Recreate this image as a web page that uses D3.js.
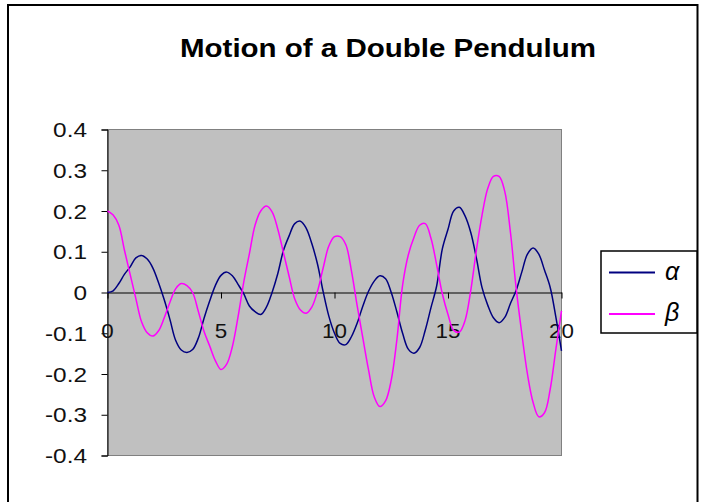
<!DOCTYPE html>
<html>
<head>
<meta charset="utf-8">
<script src="https://cdn.jsdelivr.net/npm/d3@7"></script>
<style>
  html, body { margin: 0; padding: 0; background: #fff; }
  svg { display: block; }
  text { font-family: Arial, "Liberation Sans", sans-serif; }
</style>
</head>
<body>
<svg id="chart" width="706" height="502"></svg>
<script>
// Time samples (s) and pendulum angles (rad)
const time = d3.range(0, 20.001, 0.25).map(t => +t.toFixed(2));

const alpha = [
  0, 0.004, 0.022, 0.045, 0.063, 0.085, 0.091, 0.082, 0.06, 0.024,
  -0.018, -0.066, -0.117, -0.141, -0.147, -0.14, -0.112, -0.064, -0.021, 0.017,
  0.042, 0.05, 0.041, 0.02, -0.003, -0.033, -0.047, -0.054, -0.036, 0.0,
  0.046, 0.103, 0.139, 0.169, 0.175, 0.158, 0.12, 0.07, 0.002, -0.058,
  -0.1, -0.125, -0.128, -0.108, -0.075, -0.033, 0.003, 0.028, 0.041, 0.034,
  0.0, -0.048, -0.1, -0.139, -0.149, -0.135, -0.092, -0.037, 0.016, 0.107,
  0.155, 0.2, 0.209, 0.188, 0.148, 0.085, 0.012, -0.031, -0.062, -0.074,
  -0.061, -0.027, 0.005, 0.05, 0.094, 0.109, 0.094, 0.055, 0.013, -0.06,
  -0.143
];

const beta = [
  0.2, 0.19, 0.165, 0.103, 0.044, -0.015, -0.072, -0.099, -0.107, -0.094,
  -0.062, -0.024, 0.009, 0.022, 0.017, 0.0, -0.046, -0.095, -0.131, -0.167,
  -0.189, -0.176, -0.133, -0.06, 0.025, 0.095, 0.165, 0.2, 0.212, 0.198,
  0.156, 0.098, 0.04, -0.016, -0.043, -0.051, -0.036, 0.003, 0.06, 0.114,
  0.137, 0.137, 0.117, 0.052, -0.033, -0.112, -0.19, -0.256, -0.28, -0.266,
  -0.215, -0.115, 0.018, 0.092, 0.135, 0.165, 0.169, 0.133, 0.068, -0.003,
  -0.054, -0.093, -0.097, -0.069, 0.004, 0.104, 0.19, 0.255, 0.285, 0.285,
  0.248, 0.148, 0.012, -0.1, -0.2, -0.27, -0.305, -0.295, -0.238, -0.14,
  -0.045
];

const xTicks = [0, 5, 10, 15, 20];
const xTickLabels = ["0", "5", "10", "15", "20"];
const yTicks = [0.4, 0.3, 0.2, 0.1, 0, -0.1, -0.2, -0.3, -0.4];
const yTickLabels = ["0.4", "0.3", "0.2", "0.1", "0", "-0.1", "-0.2", "-0.3", "-0.4"];

const seriesNames = ["α", "β"];
const seriesColors = ["#000080", "#FF00FF"];
const titleText = "Motion of a Double Pendulum";

const svg = d3.select("#chart");
const stretch = 1.22; // horizontal text stretch

// chart frame
svg.append("rect")
  .attr("x", 8).attr("y", 5).attr("width", 689.5).attr("height", 510)
  .attr("fill", "#fff").attr("stroke", "#000").attr("stroke-width", 2);

const x = d3.scaleLinear().domain([0, 20]).range([107.5, 561.5]);
const y = d3.scaleLinear().domain([-0.4, 0.4]).range([455.5, 129.5]);

// plot area
svg.append("rect")
  .attr("x", x(0)).attr("y", y(0.4))
  .attr("width", x(20) - x(0)).attr("height", y(-0.4) - y(0.4))
  .attr("fill", "#C0C0C0").attr("stroke", "#808080").attr("stroke-width", 1);

// title
svg.append("text")
  .attr("transform", `translate(388,57) scale(1.18,1)`)
  .attr("text-anchor", "middle")
  .attr("font-size", 25).attr("font-weight", "bold")
  .text(titleText);

// y axis
const yAxis = d3.axisLeft(y).tickValues(yTicks).tickSize(6).tickFormat("");
svg.append("g").attr("transform", `translate(${x(0)},0)`).call(yAxis)
  .call(g => g.selectAll("path, line").attr("stroke", "#000"));

svg.append("g").selectAll("text")
  .data(yTicks)
  .join("text")
  .attr("transform", d => `translate(87,${y(d) + 7.5}) scale(${stretch},1)`)
  .attr("text-anchor", "end")
  .attr("font-size", 20)
  .attr("fill", "#111")
  .text((d, i) => yTickLabels[i]);

// x axis across zero
const xAxis = d3.axisBottom(x).tickValues(xTicks).tickSize(6).tickSizeOuter(0).tickFormat("");
svg.append("g").attr("transform", `translate(0,${y(0)})`).call(xAxis)
  .call(g => g.selectAll("path, line").attr("stroke", "#000"));

svg.append("g").selectAll("text")
  .data(xTicks)
  .join("text")
  .attr("transform", d => `translate(${x(d)},${y(0) + 45}) scale(1.12,1)`)
  .attr("text-anchor", "middle")
  .attr("font-size", 20)
  .attr("fill", "#111")
  .text((d, i) => xTickLabels[i]);

// series lines
const line = d3.line()
  .x(d => x(d[0])).y(d => y(d[1]))
  .curve(d3.curveCatmullRom.alpha(0.5));
[alpha, beta].forEach((vals, i) => {
  svg.append("path")
    .datum(time.map((t, j) => [t, vals[j]]))
    .attr("fill", "none")
    .attr("stroke", seriesColors[i])
    .attr("stroke-width", 1.5)
    .attr("stroke-linejoin", "round")
    .attr("d", line);
});

// legend
const lg = svg.append("g");
lg.append("rect")
  .attr("x", 601).attr("y", 251).attr("width", 96).attr("height", 82)
  .attr("fill", "#fff").attr("stroke", "#000").attr("stroke-width", 1.5);
seriesNames.forEach((name, i) => {
  const ly = 272.5 + i * 41.5;
  lg.append("line")
    .attr("x1", 609).attr("x2", 655).attr("y1", ly).attr("y2", ly)
    .attr("stroke", seriesColors[i]).attr("stroke-width", 2);
  lg.append("text")
    .attr("x", 665).attr("y", ly + 7)
    .attr("font-family", "'Liberation Serif', 'DejaVu Serif', serif")
    .attr("font-style", "italic")
    .attr("font-size", 25)
    .attr("fill", "#000")
    .text(name);
});
</script>
</body>
</html>
